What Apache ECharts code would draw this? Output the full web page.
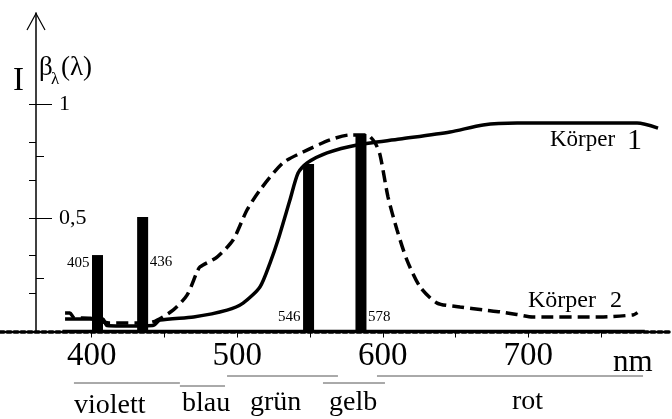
<!DOCTYPE html>
<html>
<head>
<meta charset="utf-8">
<script src="https://cdn.jsdelivr.net/npm/echarts@6/dist/echarts.min.js"></script>
<style>
  html, body { margin: 0; padding: 0; background: #fff; }
  #chart { width: 672px; height: 419px; }
</style>
</head>
<body>
<div id="chart"></div>
<script>
// Körper 1 (solid) - wavelength in nm, relative value
const k1Wl  = [381.7, 395, 407.5, 410.5, 420, 442, 447, 470, 493, 504, 515.6, 522.5, 528, 536.2, 541.8, 548, 561.7, 582.3, 611.8, 646.2, 668.9, 692.3, 774.7, 789.1];
const k1Val = [0.055, 0.055, 0.055, 0.026, 0.024, 0.026, 0.05, 0.064, 0.094, 0.125, 0.196, 0.301, 0.402, 0.578, 0.697, 0.741, 0.785, 0.82, 0.846, 0.877, 0.908, 0.916, 0.916, 0.894];

// Körper 2 (dashed)
const k2Wl  = [381.7, 385, 388, 399, 412, 432, 442, 455.9, 465.5, 472.4, 474.4, 486.1, 497.1, 506.7, 515.6, 531.4, 545.2, 563.7, 577.5, 589.2, 594.7, 598.1, 603.6, 609.8, 616.6, 625.6, 637.3, 653.1, 669, 681, 692, 703, 749, 772, 775];
const k2Val = [0.081, 0.081, 0.06, 0.058, 0.037, 0.037, 0.042, 0.094, 0.16, 0.262, 0.284, 0.327, 0.402, 0.534, 0.622, 0.741, 0.789, 0.842, 0.864, 0.864, 0.829, 0.776, 0.591, 0.446, 0.314, 0.196, 0.125, 0.108, 0.095, 0.086, 0.075, 0.064, 0.064, 0.073, 0.083];

// Hg spectral lines (bars)
const hgWl     = [404, 435, 549, 585];
const hgHeight = [0.336, 0.503, 0.736, 0.868];
const hgLabels = ['405', '436', '546', '578'];

// axis
const xTicks  = [400, 450, 500, 550, 600, 650, 700, 750];
const xLabels = [400, 500, 600, 700];
const yTicksLeft  = [1 / 6, 1 / 3, 0.5, 2 / 3, 5 / 6, 1];
const yTicksRight = [0.235, 0.769];
const yLabels     = [0.5, 1];
const baseLine = [380, 780];

// colour bands
const bandNames = ['violett', 'blau', 'grün', 'gelb', 'rot'];
const bandFrom  = [387.8, 460.6, 493, 558.9, 596];
const bandTo    = [460.6, 491.6, 569.2, 601.5, 778.8];

const serif = 'Liberation Serif, Times New Roman, serif';

const chart = echarts.init(document.getElementById('chart'));

const pairs = (xs, ys) => xs.map((x, i) => [x, ys[i]]);

const option = {
  animation: false,
  grid: [
    {left: 0, right: 0, top: 13, bottom: 87.5},
    {left: 36, right: 0, top: 13, bottom: 87.5}
  ],
  xAxis: [
    {
      gridIndex: 0, type: 'value', min: 337, max: 798.7,
      axisLine: {show: true, onZero: false, lineStyle: {color: '#000', width: 3.5, type: [4, 3]}},
      axisTick: {show: true, customValues: xTicks, length: 6, lineStyle: {color: '#000', width: 1}},
      axisLabel: {customValues: xLabels, fontSize: 33, fontFamily: serif, color: '#000', margin: 8},
      splitLine: {show: false}
    },
    {gridIndex: 1, type: 'value', min: 0, max: 1, show: false}
  ],
  yAxis: [
    {gridIndex: 0, type: 'value', min: 0, max: 1.4, show: false},
    {
      gridIndex: 1, type: 'value', position: 'left', min: 0, max: 1.4,
      axisLine: {show: true, lineStyle: {color: '#000', width: 1.5}},
      axisTick: {show: true, customValues: yTicksLeft, length: 7, lineStyle: {color: '#000', width: 1}},
      axisLabel: {show: false},
      splitLine: {show: false}
    },
    {
      gridIndex: 1, type: 'value', position: 'left', min: 0, max: 1.4,
      axisLine: {show: false},
      axisTick: {show: true, inside: true, customValues: yTicksRight, length: 8, lineStyle: {color: '#000', width: 1}},
      axisLabel: {show: false},
      splitLine: {show: false}
    },
    {
      gridIndex: 1, type: 'value', position: 'left', min: 0, max: 1.4,
      axisLine: {show: false},
      axisTick: {show: true, inside: true, customValues: yLabels, length: 16, lineStyle: {color: '#000', width: 1}},
      axisLabel: {
        inside: true, customValues: yLabels, margin: 23,
        fontSize: 22, fontFamily: serif, color: '#000',
        formatter: v => (v === 1 ? '1' : String(v).replace('.', ','))
      },
      splitLine: {show: false}
    }
  ],
  series: [
    {
      name: 'Körper 1', type: 'line', data: pairs(k1Wl, k1Val),
      showSymbol: false, smooth: 0.25,
      lineStyle: {color: '#000', width: 3.5}, z: 3
    },
    {
      name: 'Körper 2', type: 'line', data: pairs(k2Wl, k2Val),
      showSymbol: false, smooth: 0.25,
      lineStyle: {color: '#000', width: 3.5, type: [12, 6]}, z: 3
    },
    {
      name: 'Hg', type: 'bar', data: pairs(hgWl, hgHeight),
      barWidth: 11, itemStyle: {color: '#000'}, z: 4
    },
    {
      name: 'axis', type: 'line', data: baseLine.map(x => [x, 0]),
      showSymbol: false, lineStyle: {color: '#000', width: 3.5}, z: 5
    }
  ],
  graphic: []
};

chart.setOption(option);

const px = wl => chart.convertToPixel({xAxisIndex: 0}, wl);
const txt = (text, x, y, size, align) => ({
  type: 'text', x: x, y: y, silent: true,
  style: {text: text, fill: '#000', font: size + 'px ' + serif, align: align || 'left', verticalAlign: 'middle'}
});

const g = [];
// y axis arrow head
g.push({type: 'polyline', shape: {points: [[27, 30], [36, 13.5], [45, 30]]}, style: {stroke: '#000', lineWidth: 1.2, fill: null}});
g.push(txt('I', 13, 81, 33));
g.push(txt('β', 39, 68, 27));
g.push(txt('λ', 51, 80, 17));
g.push(txt('(λ)', 61, 68, 27));
g.push(txt('nm', 613, 363, 31));

// labels of the Hg lines
const hgSide = ['left', 'right', 'left', 'right'];
const hgY = [263, 262, 317, 317];
hgLabels.forEach((t, i) => {
  const cx = px(hgWl[i]);
  if (hgSide[i] === 'left') g.push(txt(t, cx - 8, hgY[i], 15, 'right'));
  else g.push(txt(t, cx + 7, hgY[i], 15, 'left'));
});

// curve names
g.push(txt('Körper', 550, 140, 23));
g.push(txt('1', 627, 141, 30));
g.push(txt('Körper', 528, 301, 24));
g.push(txt('2', 610, 301, 24));

// colour bands
const bandLineY = [383, 386, 376, 383, 376];
const bandTextX = [74, 182, 250, 329, 512];
const bandTextY = [406, 404, 403, 403, 402];
bandNames.forEach((n, i) => {
  g.push({type: 'line', shape: {x1: px(bandFrom[i]), y1: bandLineY[i], x2: px(bandTo[i]), y2: bandLineY[i]},
          style: {stroke: '#555', lineWidth: 1}});
  g.push(txt(n, bandTextX[i], bandTextY[i], 28));
});

chart.setOption({graphic: g});
</script>
</body>
</html>
